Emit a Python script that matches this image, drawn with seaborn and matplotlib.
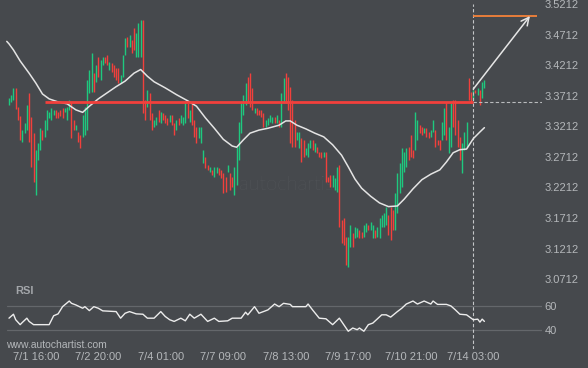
import matplotlib
matplotlib.use("Agg")
import matplotlib.pyplot as plt
import numpy as np
import seaborn as sns

# hourly candles (price units)
opens = [
    3.356, 3.361, 3.364, 3.384, 3.353, 3.338, 3.296, 3.310, 3.315, 3.376, 3.336, 3.310, 3.209, 3.266,
    3.283, 3.315, 3.304, 3.315, 3.335, 3.332, 3.340, 3.348, 3.345, 3.348, 3.351, 3.345, 3.332, 3.348,
    3.361, 3.332, 3.315, 3.312, 3.307, 3.304, 3.307, 3.315, 3.376, 3.377, 3.408, 3.394, 3.434,
    3.397, 3.421, 3.434, 3.438, 3.413, 3.425, 3.421, 3.417, 3.417, 3.392, 3.402, 3.438, 3.467, 3.451,
    3.462, 3.482, 3.434, 3.434, 3.434, 3.495, 3.364, 3.353, 3.376, 3.343, 3.320, 3.323, 3.348, 3.327,
    3.343, 3.340, 3.335, 3.328, 3.340, 3.327, 3.315, 3.335, 3.327, 3.323, 3.327, 3.359, 3.328,
    3.359, 3.332, 3.320, 3.302, 3.294, 3.261, 3.271, 3.258, 3.247, 3.250, 3.238, 3.245, 3.253, 3.250,
    3.245, 3.238, 3.247, 3.245, 3.238, 3.209, 3.225, 3.266, 3.310, 3.340, 3.356, 3.402, 3.408, 3.384,
    3.343, 3.351, 3.348, 3.348, 3.343, 3.320, 3.323, 3.328, 3.327, 3.336, 3.327, 3.332, 3.320, 3.359,
    3.408, 3.402, 3.386, 3.364, 3.332, 3.299, 3.286, 3.302, 3.299, 3.274, 3.271, 3.286, 3.299, 3.279,
    3.287, 3.279, 3.279, 3.271, 3.279, 3.238, 3.242, 3.222, 3.217, 3.214, 3.258, 3.168, 3.171, 3.140,
    3.091,
    3.124, 3.147, 3.139, 3.140, 3.152, 3.148, 3.140, 3.149, 3.160, 3.152, 3.139, 3.152, 3.140, 3.139,
    3.157,
    3.157, 3.160, 3.176, 3.189, 3.184, 3.152, 3.180, 3.212, 3.222, 3.247, 3.255, 3.287, 3.307, 3.283,
    3.283, 3.299, 3.323, 3.320, 3.310, 3.318, 3.312, 3.304, 3.312, 3.315, 3.299, 3.299, 3.299, 3.307,
    3.361, 3.278, 3.287, 3.364, 3.364, 3.332, 3.304, 3.245, 3.283, 3.287, 3.400, 3.377, 3.364, 3.381,
    3.372, 3.381, 3.368, 3.384,
]
closes = [
    3.368, 3.372, 3.384, 3.350, 3.332, 3.299, 3.315, 3.327, 3.356, 3.296, 3.255, 3.230, 3.283, 3.294,
    3.318, 3.299, 3.332, 3.348, 3.345, 3.351, 3.348, 3.335, 3.335, 3.338, 3.335, 3.351, 3.353, 3.364,
    3.302, 3.315, 3.323, 3.296, 3.286, 3.340, 3.353, 3.397, 3.413, 3.441, 3.377, 3.421, 3.402,
    3.430, 3.434, 3.425, 3.421, 3.426, 3.410, 3.402, 3.397, 3.392, 3.405, 3.438, 3.465, 3.451, 3.470,
    3.441, 3.446, 3.474, 3.490, 3.495, 3.343, 3.332, 3.381, 3.332, 3.315, 3.332, 3.336, 3.328, 3.345,
    3.332, 3.327, 3.323, 3.340, 3.323, 3.307, 3.332, 3.323, 3.340, 3.336, 3.361, 3.335, 3.348,
    3.323, 3.304, 3.294, 3.320, 3.320, 3.283, 3.253, 3.250, 3.255, 3.242, 3.255, 3.255, 3.242, 3.237,
    3.212, 3.214, 3.258, 3.217, 3.222, 3.255, 3.287, 3.328, 3.359, 3.372, 3.392, 3.359, 3.353, 3.348,
    3.351, 3.340, 3.340, 3.336, 3.320, 3.332, 3.335, 3.340, 3.336, 3.327, 3.340, 3.320, 3.376, 3.400,
    3.359, 3.348, 3.294, 3.287, 3.287, 3.312, 3.312, 3.263, 3.271, 3.286, 3.294, 3.299, 3.283, 3.294,
    3.278, 3.271, 3.270, 3.279, 3.230, 3.230, 3.222, 3.242, 3.237, 3.255, 3.157, 3.131, 3.127, 3.095,
    3.140,
    3.160, 3.124, 3.157, 3.155, 3.139, 3.139, 3.160, 3.163, 3.152, 3.165, 3.160, 3.139, 3.157, 3.171,
    3.176,
    3.180, 3.189, 3.144, 3.135, 3.152, 3.212, 3.245, 3.261, 3.286, 3.279, 3.286, 3.266, 3.271, 3.269,
    3.345, 3.332, 3.310, 3.307, 3.318, 3.304, 3.302, 3.315, 3.332, 3.287, 3.291, 3.283, 3.328, 3.351,
    3.299, 3.320, 3.359, 3.320, 3.307, 3.287, 3.266, 3.294, 3.312, 3.328, 3.364, 3.359, 3.381, 3.376,
    3.384, 3.356, 3.394, 3.397,
]

# moving average (white line)
ma_bars = [-1, 0, 2, 5, 9, 12, 15, 18, 22, 26, 30, 33, 36, 40, 44, 48, 52, 56, 59, 62, 65, 70, 75,
           80, 84, 88, 92, 96, 100, 102, 105, 108, 112, 116, 121, 124, 126, 129, 133, 137, 141, 145,
           149, 152, 155, 158, 162, 166, 170, 174, 177, 181, 185, 189, 193, 196, 199, 202, 205, 208,
           211, 213]
ma_values = [3.460, 3.456, 3.446, 3.428, 3.408, 3.392, 3.374, 3.366, 3.361, 3.358, 3.348, 3.344,
             3.354, 3.366, 3.376, 3.386, 3.395, 3.408, 3.414, 3.403, 3.394, 3.384, 3.373, 3.363,
             3.354, 3.335, 3.318, 3.300, 3.289, 3.287, 3.299, 3.310, 3.315, 3.318, 3.323, 3.330,
             3.330, 3.323, 3.317, 3.310, 3.304, 3.291, 3.274, 3.255, 3.235, 3.220, 3.207, 3.196,
             3.190, 3.191, 3.202, 3.219, 3.234, 3.243, 3.250, 3.263, 3.278, 3.283, 3.284, 3.301,
             3.312, 3.319]

# RSI panel
rsi_bars = [0, 2, 3, 5, 6, 8, 9, 11, 18, 20, 22, 24, 27, 28, 30, 33, 34, 36, 38, 40, 42, 48, 50,
            52, 54, 57, 60, 62, 65, 68, 70, 72, 74, 77, 79, 81, 83, 86, 89, 92, 94, 98, 100, 104,
            106, 107, 110, 112, 114, 116, 119, 121, 123, 126, 127, 133, 134, 136, 139, 142, 145,
            148, 152, 154, 156, 157, 159, 161, 163, 167, 169, 171, 174, 176, 178, 181, 183, 186,
            189, 190, 192, 196, 198, 200, 202, 205, 208, 210, 211, 212, 213]
rsi_values = [50.1, 53.4, 48.8, 44.7, 46.6, 50.1, 47.4, 44.7, 44.7, 52.1, 53.7, 59.7, 64.4, 62.5,
              61.1, 58.4, 59.7, 56.4, 59.7, 58.4, 56.2, 55.6, 50.1, 54.2, 55.6, 53.7, 53.4, 50.1,
              50.1, 55.6, 51.5, 48.8, 47.4, 50.1, 47.9, 53.4, 50.1, 53.4, 47.4, 50.1, 47.4, 47.9,
              50.1, 50.1, 55.1, 52.9, 59.7, 54.2, 55.6, 57.0, 61.9, 59.7, 62.5, 61.6, 59.7, 59.7,
              61.9, 57.0, 50.1, 49.6, 44.7, 50.1, 39.2, 41.9, 40.5, 41.9, 39.2, 44.7, 46.0, 52.9,
              52.9, 51.0, 55.6, 58.4, 61.9, 64.4, 61.9, 64.4, 61.9, 64.4, 61.6, 61.6, 60.3, 57.0,
              53.4, 52.9, 48.8, 49.3, 46.8, 49.3, 47.4]

# pattern / forecast
resistance = 3.3604
resistance_start = 16
breakout_bar = 208
arrow_start = 3.382
target_price = 3.5014
arrow_tip_bar = 233.4
target_end_bar = 236.6

price_ticks = [3.0712, 3.1212, 3.1712, 3.2212, 3.2712, 3.3212, 3.3712, 3.4212, 3.4712, 3.5212]
time_ticks = [12, 40, 68, 96, 124, 152, 180, 208]
time_labels = ["7/1 16:00", "7/2 20:00", "7/4 01:00", "7/7 09:00",
               "7/8 13:00", "7/9 17:00", "7/10 21:00", "7/14 03:00"]

bg = "#46494d"
green = "#1ec97f"
red = "#f2403c"
text_col = "#b4b7ba"

sns.set_style("dark", {"axes.facecolor": bg, "figure.facecolor": bg})
plt.rcParams["font.family"] = ["Liberation Sans", "DejaVu Sans"]

fig = plt.figure(figsize=(5.88, 3.68), dpi=100, facecolor=bg)
ax = fig.add_axes([0, 78 / 368, 542 / 588, 290 / 368])
ax_rsi = fig.add_axes([0, 19 / 368, 542 / 588, 59 / 368])

xlim = (-4.03, 238.8)

# candles
bars = np.arange(len(opens))
o = np.array(opens)
c = np.array(closes)
ax.vlines(bars, o, c, colors=np.where(c >= o, green, red), lw=1.0, zorder=2)

sns.lineplot(x=ma_bars, y=ma_values, ax=ax, color="#e4e4e4", lw=1.1, sort=False, zorder=3)

ax.hlines(resistance, resistance_start, breakout_bar, color=red, lw=2.0, zorder=4)
ax.hlines(resistance, breakout_bar, xlim[1], colors="#b9bbbd", linestyles=(0, (3, 2)), lw=0.8)
ax.vlines(breakout_bar, 3.0, price_ticks[-1], colors="#c4c6c8", linestyles=(0, (3, 2)), lw=0.8)
ax.hlines(target_price, breakout_bar, target_end_bar, color="#f5823a", lw=1.3, zorder=4)
ax.annotate("", xy=(arrow_tip_bar, target_price), xytext=(breakout_bar, arrow_start),
            arrowprops=dict(arrowstyle="->", color="#e6e6e6", lw=1.1, mutation_scale=14,
                            shrinkA=0, shrinkB=0), zorder=5)

ax.text(0.535, 0.362, "autochartist", transform=ax.transAxes, ha="center", va="center",
        fontsize=14.5, color="#5a5d61", family="Lato", fontweight="light", zorder=0)

ax.set_xlim(*xlim)
ax.set_ylim(3.0537, 3.5276)
ax.yaxis.tick_right()
ax.set_yticks(price_ticks)
ax.set_yticklabels([f"{v:.4f}" for v in price_ticks])
ax.set_xticks([])
ax.tick_params(axis="y", length=0, pad=2, labelsize=8, labelcolor=text_col)
ax.grid(False)
ax.set_xlabel("")
ax.set_ylabel("")
for s in ax.spines.values():
    s.set_visible(False)

# RSI
for lvl in (40, 60):
    ax_rsi.axhline(lvl, xmin=0.013, color="#64676b", lw=0.9, zorder=1)
sns.lineplot(x=rsi_bars, y=rsi_values, ax=ax_rsi, color="#ececec", lw=1.0, sort=False, zorder=3)
ax_rsi.axvline(breakout_bar, color="#c4c6c8", ls=(0, (3, 2)), lw=0.8)
ax_rsi.set_xlim(*xlim)
ax_rsi.set_ylim(24.4, 73.6)
ax_rsi.yaxis.tick_right()
ax_rsi.set_yticks([40, 60])
ax_rsi.set_xticks(time_ticks)
ax_rsi.set_xticklabels(time_labels)
ax_rsi.tick_params(length=0, pad=2, labelsize=8, labelcolor=text_col)
ax_rsi.grid(False)
ax_rsi.set_xlabel("")
ax_rsi.set_ylabel("")
for s in ax_rsi.spines.values():
    s.set_visible(False)

fig.text(15 / 588, 1 - 291 / 368, "RSI", fontsize=8, fontweight="bold", color="#a3a6aa",
         va="center")
fig.text(6 / 588, 1 - 345 / 368, "www.autochartist.com", fontsize=7.5, color=text_col,
         va="center")

fig.savefig("out.png", dpi=100, facecolor=bg)
